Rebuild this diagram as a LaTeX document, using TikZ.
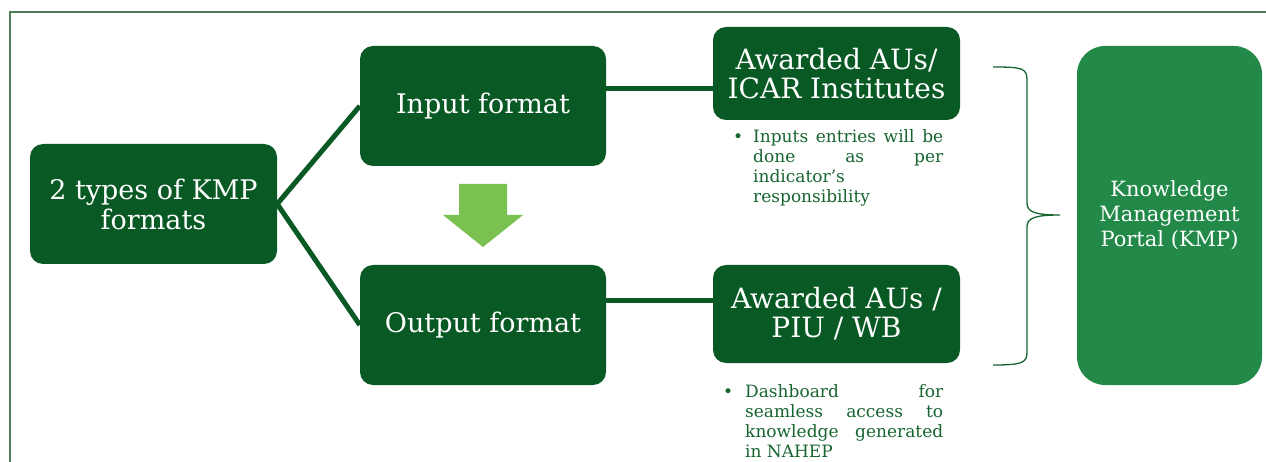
\documentclass[tikz,border=0pt]{standalone}
\usepackage{fontspec}
\setmainfont{DejaVu Serif}
\usepackage{xcolor}
\definecolor{boxgreen}{RGB}{9,89,36}
\definecolor{kmpgreen}{RGB}{34,137,72}
\definecolor{arrowgreen}{RGB}{122,193,82}
\definecolor{notegreen}{RGB}{22,100,48}
\definecolor{framegreen}{RGB}{78,128,88}

\begin{document}
\begin{tikzpicture}[x=1pt, y=-1pt,
	darkbox/.style={rectangle, rounded corners=13pt, fill=boxgreen, text=white, align=center, inner sep=0pt},
	link/.style={draw=boxgreen, line width=5pt},
	note/.style={anchor=north west, inner sep=0pt, text=notegreen, align=justify, font=\fontsize{17}{20}\selectfont}]
			\useasboundingbox (0,0) rectangle (1266,462);
			\draw[framegreen, line width=2pt] (10,463) -- (10,12) -- (1267,12);
			\draw (153.5,204) node [darkbox, minimum width=247pt, minimum height=120pt, font=\fontsize{27}{30}\selectfont] (fmt) {2 types of KMP\\formats};
			\draw (483,106) node [darkbox, minimum width=246pt, minimum height=120pt, font=\fontsize{27}{30}\selectfont] (inp) {Input format};
			\draw (483,325) node [darkbox, minimum width=246pt, minimum height=120pt, font=\fontsize{27}{30}\selectfont] (outp) {Output format};
			\draw (836.5,73.5) node [darkbox, minimum width=247pt, minimum height=93pt, font=\fontsize{28}{29}\selectfont] (aw1) {Awarded AUs/\\ICAR Institutes};
			\draw (836.5,314) node [darkbox, minimum width=247pt, minimum height=98pt, font=\fontsize{28}{29}\selectfont] (aw2) {Awarded AUs /\\PIU / WB};
			\draw (1169.5,215.5) node [darkbox, rounded corners=28pt, fill=kmpgreen, minimum width=185pt, minimum height=339pt, font=\fontsize{21}{25}\selectfont] (kmp) {Knowledge\\Management\\Portal (KMP)};
			\coordinate (j1) at (660,89);
			\coordinate (j2) at (660,301);
			\path (fmt.east) edge [link] (inp.west)
			(fmt.east) edge [link] (outp.west)
			(inp.east |- j1) edge [link] (aw1.west |- j1)
			(outp.east |- j2) edge [link] (aw2.west |- j2);
			\fill[arrowgreen] (459,184) -- (507,184) -- (507,215) -- (523,215) -- (483,247) -- (443,215) -- (459,215) -- cycle;
			\draw (753,129) node [note, text width=190pt] (note1) {\hspace*{-20pt}\makebox[20pt][l]{\textbullet}Inputs entries will be\linebreak done as per\linebreak indicator's\newline responsibility};
			\draw (745,384) node [note, text width=198pt] (note2) {\hspace*{-22pt}\makebox[22pt][l]{\textbullet}Dashboard for\linebreak seamless access to\linebreak knowledge generated\linebreak in NAHEP};
			\draw[notegreen, line width=1.3pt] (993,67) .. controls (1022,67) and (1027,68) .. (1027,80) -- (1027,203) .. controls (1027,212) and (1035,215) .. (1060,215) .. controls (1035,215) and (1027,218) .. (1027,227) -- (1027,352) .. controls (1027,363) and (1022,365) .. (993,365);
		\end{tikzpicture}
\end{document}
